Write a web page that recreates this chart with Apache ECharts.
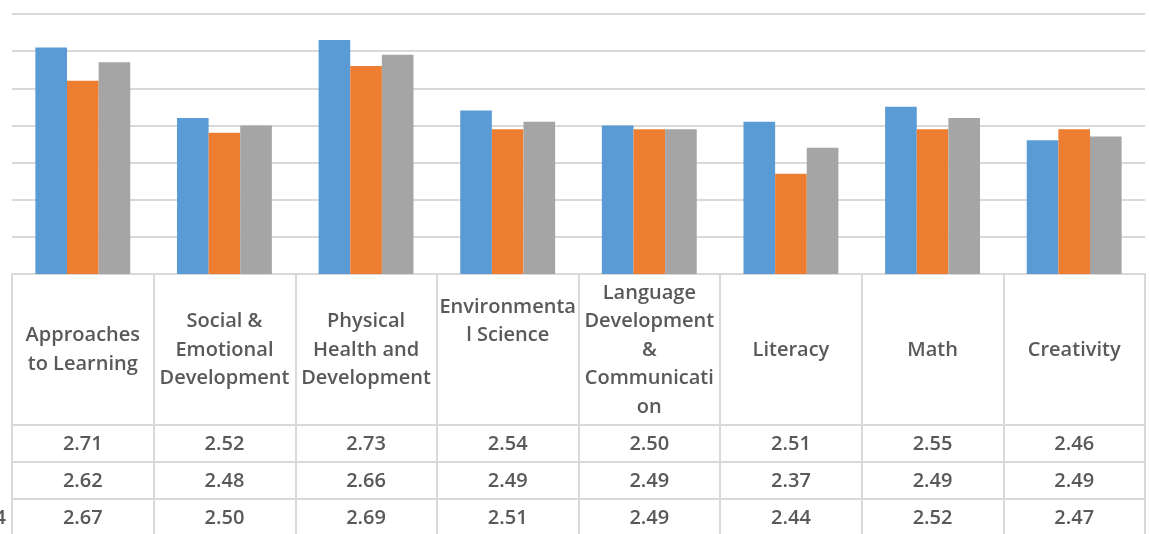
<!DOCTYPE html>
<html>
<head>
<meta charset="utf-8">
<script src="https://cdn.jsdelivr.net/npm/echarts@6/dist/echarts.min.js"></script>
<style>
html,body{margin:0;padding:0;background:#fff;}
#chart{width:1149px;height:534px;}
</style>
</head>
<body>
<div id="chart"></div>
<script>
const categories = [
  "Approaches\nto Learning",
  "Social &\nEmotional\nDevelopment",
  "Physical\nHealth and\nDevelopment",
  "Environmenta\nl Science\n \n ",
  "Language\nDevelopment\n&\nCommunicati\non",
  "Literacy",
  "Math",
  "Creativity"
];
const series1 = [2.71, 2.52, 2.73, 2.54, 2.50, 2.51, 2.55, 2.46];
const series2 = [2.62, 2.48, 2.66, 2.49, 2.49, 2.37, 2.49, 2.49];
const series3 = [2.67, 2.50, 2.69, 2.51, 2.49, 2.44, 2.52, 2.47];
const rowLabel3 = "2014";

const colors = ["#5B9BD5", "#ED7D31", "#A5A5A5"];
const lineColor = "#D9D9D9";
const textColor = "#595959";
const font = "'Open Sans', 'Noto Sans', sans-serif";
const fSize = 20;
const fWeight = 600;

function rowAxis(values, offset) {
  return {
    type: 'category',
    data: categories,
    position: 'bottom',
    offset: offset,
    axisLine: { show: true, lineStyle: { color: lineColor, width: 2 } },
    axisTick: { show: false },
    splitLine: { show: false },
    axisLabel: {
      interval: 0,
      margin: 19,
      verticalAlign: 'middle',
      color: textColor,
      fontFamily: font,
      fontSize: fSize,
      fontWeight: fWeight,
      formatter: (v, i) => values[i].toFixed(2)
    }
  };
}

const chart = echarts.init(document.getElementById('chart'), null, { renderer: 'canvas' });
chart.setOption({
  animation: false,
  backgroundColor: '#fff',
  grid: { left: 12, right: 4, top: 14, bottom: 260, containLabel: false },
  xAxis: [
    {
      type: 'category',
      data: categories,
      position: 'bottom',
      axisLine: { show: true, lineStyle: { color: lineColor, width: 2 } },
      axisTick: { show: true, length: 262, lineStyle: { color: lineColor, width: 2 } },
      axisLabel: {
        interval: 0,
        margin: 76,
        verticalAlign: 'middle',
        align: 'center',
        color: textColor,
        fontFamily: font,
        fontSize: fSize,
        fontWeight: fWeight,
        lineHeight: 28.5
      }
    },
    rowAxis(series1, 151),
    rowAxis(series2, 188),
    rowAxis(series3, 225)
  ],
  yAxis: {
    type: 'value',
    min: 2.1,
    max: 2.8,
    interval: 0.1,
    axisLine: { show: false },
    axisTick: { show: false },
    axisLabel: { show: false },
    splitLine: { show: true, lineStyle: { color: lineColor, width: 2 } }
  },
  graphic: [
    { type: 'text', x: 6, y: 518, style: { text: rowLabel3, fill: textColor, font: "600 20px 'Open Sans'", textAlign: 'right', textVerticalAlign: 'middle' } }
  ],
  series: [
    { type: 'bar', data: series1, itemStyle: { color: colors[0] }, barGap: '0%', barCategoryGap: '33%' },
    { type: 'bar', data: series2, itemStyle: { color: colors[1] }, barGap: '0%', barCategoryGap: '33%' },
    { type: 'bar', data: series3, itemStyle: { color: colors[2] }, barGap: '0%', barCategoryGap: '33%' }
  ]
});
</script>
</body>
</html>
